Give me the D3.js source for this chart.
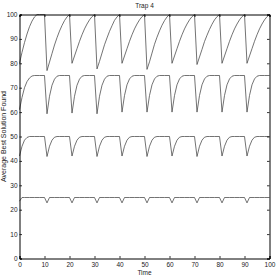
<!DOCTYPE html>
<html>
<head>
<meta charset="utf-8">
<script src="https://cdn.jsdelivr.net/npm/d3@7"></script>
<style>
  body { margin: 0; background: #fff; }
  svg { display: block; font-family: "Liberation Sans", Arial, sans-serif; }
</style>
</head>
<body>
<svg id="chart"></svg>
<script>
// time steps 0..100
var time = d3.range(0, 101);

var level100 = [
  80, 84.5, 88.5, 92, 95, 97.3, 99, 100, 100, 100, 100,
  77, 80.5, 84, 87.5, 90.5, 93.2, 95.5, 97.5, 99, 100,
  80, 83, 86, 89, 91.7, 94.1, 96.1, 97.8, 99.1, 100,
  77.7, 80.8, 84.2, 87.6, 90.4, 93.1, 95.4, 97.6, 99, 100,
  80, 83, 86, 89, 91.7, 94.1, 96.1, 97.8, 99.1, 100,
  77.5, 80.6, 84.2, 87.8, 90.7, 93.3, 95.6, 97.5, 99, 100,
  80, 83, 86, 89, 91.7, 94.1, 96.1, 97.8, 99.1, 100,
  79.5, 82.6, 85.7, 88.9, 91.5, 93.9, 96, 97.8, 99.1, 100,
  80, 83, 86, 89, 91.7, 94.1, 96.1, 97.8, 99.1, 100,
  80, 83, 86, 89, 91.7, 94.1, 96.1, 97.8, 99.1, 100
];

var level75 = [
  61, 66, 70, 72.5, 74, 74.8, 75, 75, 75, 75, 75,
  59.3, 66.5, 71, 73.5, 74.7, 75, 75, 75, 75, 75,
  59.6, 66.5, 71, 73.5, 74.7, 75, 75, 75, 75, 75,
  59.3, 66.5, 71, 73.5, 74.7, 75, 75, 75, 75, 75,
  60, 66.8, 71.2, 73.6, 74.7, 75, 75, 75, 75, 75,
  60, 66.8, 71.2, 73.6, 74.7, 75, 75, 75, 75, 75,
  60, 66.8, 71.2, 73.6, 74.7, 75, 75, 75, 75, 75,
  60, 66.8, 71.2, 73.6, 74.7, 75, 75, 75, 75, 75,
  60, 66.8, 71.2, 73.6, 74.7, 75, 75, 75, 75, 75,
  60, 66.8, 71.2, 73.6, 74.7, 75, 75, 75, 75, 75
];

var level50 = [
  42, 46, 48.5, 49.6, 50, 50, 50, 50, 50, 50, 50,
  41.8, 46, 48.5, 49.7, 50, 50, 50, 50, 50, 50,
  42, 46, 48.5, 49.7, 50, 50, 50, 50, 50, 50,
  41.8, 46, 48.5, 49.7, 50, 50, 50, 50, 50, 50,
  42, 46, 48.5, 49.7, 50, 50, 50, 50, 50, 50,
  41.8, 46, 48.5, 49.7, 50, 50, 50, 50, 50, 50,
  42, 46, 48.5, 49.7, 50, 50, 50, 50, 50, 50,
  41.8, 46, 48.5, 49.7, 50, 50, 50, 50, 50, 50,
  42, 46, 48.5, 49.7, 50, 50, 50, 50, 50, 50,
  42, 46, 48.5, 49.7, 50, 50, 50, 50, 50, 50
];

var level25 = [
  23.5, 25, 25, 25, 25, 25, 25, 25, 25, 25, 25,
  22.8, 25, 25, 25, 25, 25, 25, 25, 25, 25,
  22.8, 25, 25, 25, 25, 25, 25, 25, 25, 25,
  22.8, 25, 25, 25, 25, 25, 25, 25, 25, 25,
  22.8, 25, 25, 25, 25, 25, 25, 25, 25, 25,
  22.8, 25, 25, 25, 25, 25, 25, 25, 25, 25,
  22.8, 25, 25, 25, 25, 25, 25, 25, 25, 25,
  22.8, 25, 25, 25, 25, 25, 25, 25, 25, 25,
  22.8, 25, 25, 25, 25, 25, 25, 25, 25, 25,
  22.8, 25, 25, 25, 25, 25, 25, 25, 25, 25
];

var series = [level100, level75, level50, level25];
var xTicks = [0, 10, 20, 30, 40, 50, 60, 70, 80, 90, 100];
var yTicks = [0, 10, 20, 30, 40, 50, 60, 70, 80, 90, 100];

var canvas_width = 277, canvas_height = 277;
var plotLeft = 19.5, plotRight = 269.5, plotTop = 14.5, plotBottom = 258.5;

var svg = d3.select("#chart").attr("width", canvas_width).attr("height", canvas_height);

var xScale = d3.scaleLinear().domain([0, 100]).range([plotLeft, plotRight]);
var yScale = d3.scaleLinear().domain([0, 100]).range([plotBottom, plotTop]);

// lines
var line = d3.line()
  .x(function (d, i) { return xScale(time[i]); })
  .y(function (d) { return yScale(d); });

svg.selectAll(".series")
  .data(series)
  .enter()
  .append("path")
  .attr("class", "series")
  .attr("d", line)
  .attr("fill", "none")
  .attr("stroke", "#444")
  .attr("stroke-width", 0.75);

// axes, ticks pointing inward (matlab style)
var fontSize = 6.5;
var tickLen = 2.5;

svg.append("g")
  .attr("transform", "translate(0," + plotBottom + ")")
  .call(d3.axisBottom(xScale).tickValues(xTicks).tickSize(-tickLen).tickPadding(4));
svg.append("g")
  .attr("transform", "translate(0," + plotTop + ")")
  .call(d3.axisTop(xScale).tickValues(xTicks).tickSize(-tickLen).tickFormat(""));
svg.append("g")
  .attr("transform", "translate(" + plotLeft + ",0)")
  .call(d3.axisLeft(yScale).tickValues(yTicks).tickSize(-tickLen).tickPadding(2));
svg.append("g")
  .attr("transform", "translate(" + plotRight + ",0)")
  .call(d3.axisRight(yScale).tickValues(yTicks).tickSize(-tickLen).tickFormat(""));

svg.selectAll(".domain").attr("stroke", "#000").attr("stroke-width", 1);
svg.selectAll(".tick line").attr("stroke", "#000").attr("stroke-width", 0.8);
svg.selectAll(".tick text")
  .attr("font-size", fontSize)
  .attr("font-family", "Liberation Sans, Arial, sans-serif")
  .attr("fill", "#222");

// title and labels
svg.append("text")
  .attr("x", (plotLeft + plotRight) / 2)
  .attr("y", 7.5)
  .attr("text-anchor", "middle")
  .attr("font-size", fontSize)
  .attr("fill", "#222")
  .text("Trap 4");

svg.append("text")
  .attr("x", (plotLeft + plotRight) / 2)
  .attr("y", 275)
  .attr("text-anchor", "middle")
  .attr("font-size", fontSize)
  .attr("fill", "#222")
  .text("Time");

svg.append("text")
  .attr("transform", "translate(6," + (plotTop + plotBottom) / 2 + ") rotate(-90)")
  .attr("text-anchor", "middle")
  .attr("font-size", 7)
  .attr("fill", "#222")
  .text("Average Best Solution Found");
</script>
</body>
</html>
